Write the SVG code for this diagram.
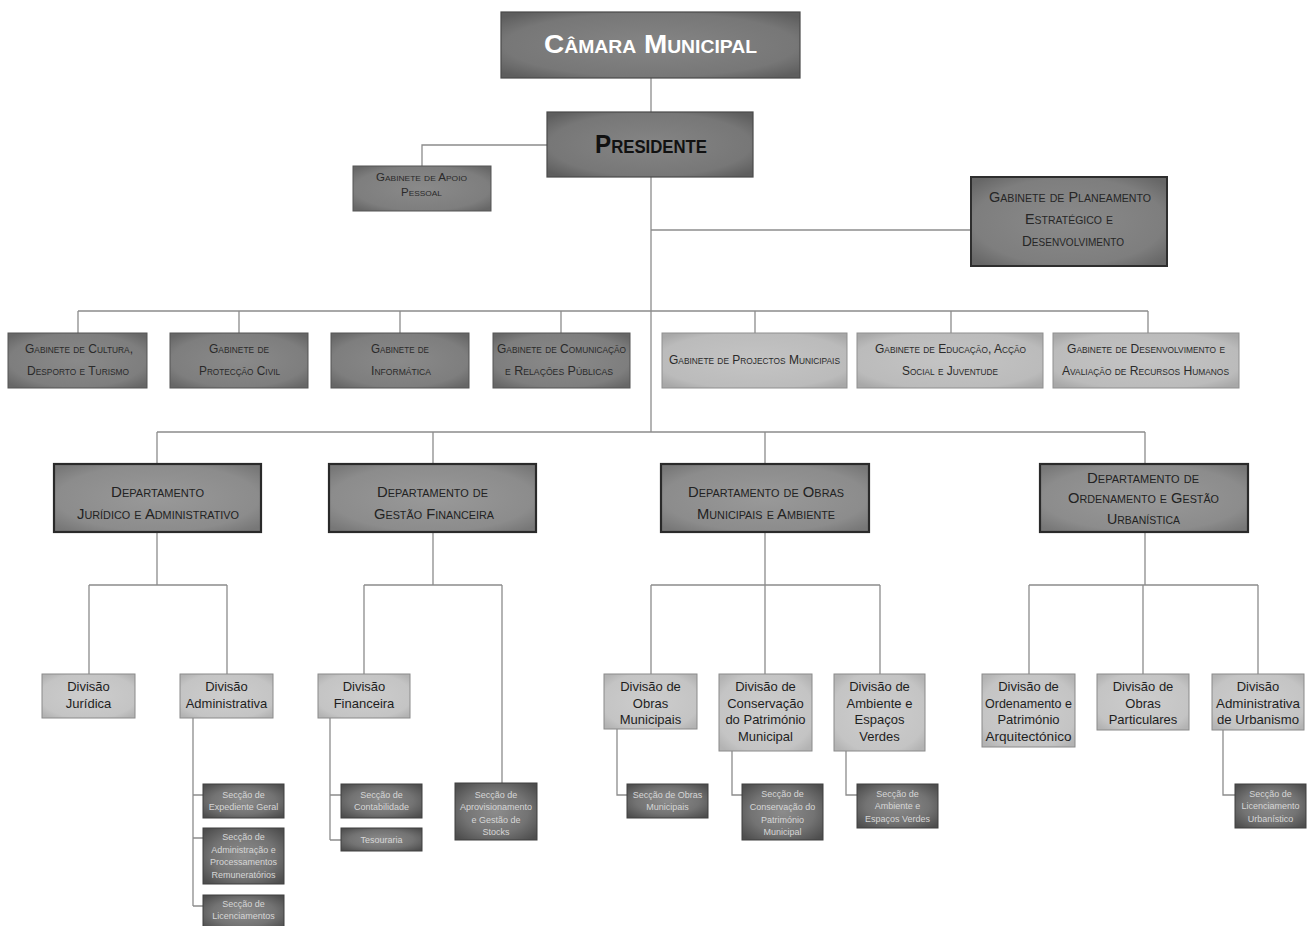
<svg xmlns="http://www.w3.org/2000/svg" width="1310" height="926" viewBox="0 0 1310 926">
<style>
.bg{fill:#ffffff}
.ln{fill:none;stroke:#8c8c8c;stroke-width:1.3}
.top{fill:url(#gTop);stroke:#4a4a4a;stroke-width:1.2}
.gd{fill:url(#gDark);stroke:#555;stroke-width:1}
.gl{fill:url(#gLight);stroke:#8f8f8f;stroke-width:1}
.dep{fill:url(#gDept);stroke:#2a2a2a;stroke-width:2.2}
.div{fill:url(#gDiv);stroke:#8a8a8a;stroke-width:1}
.sec{fill:url(#gSec);stroke:#3f3f3f;stroke-width:1}
text{font-family:"Liberation Sans",Arial,sans-serif;text-anchor:middle}
.sc{font-variant:small-caps}
.t1{font-size:26px;font-weight:bold;fill:#ffffff}
.t2{font-size:26px;font-weight:bold;fill:#111}
.tg{font-size:13px;fill:#2a2a2a}
.tgs{font-size:11px;fill:#2a2a2a}
.tp{font-size:15px;fill:#262626}
.td{font-size:15px;fill:#222}
.tv{font-size:13px;fill:#1e1e1e}
.ts{font-size:9px;fill:#d6d6d6}
</style>
<defs>
<radialGradient id="gTop" cx="50%" cy="50%" r="65%"><stop offset="0" stop-color="#858585"/><stop offset="0.75" stop-color="#777"/><stop offset="1" stop-color="#5e5e5e"/></radialGradient>
<radialGradient id="gDark" cx="50%" cy="50%" r="65%"><stop offset="0" stop-color="#8a8a8a"/><stop offset="0.75" stop-color="#7e7e7e"/><stop offset="1" stop-color="#676767"/></radialGradient>
<radialGradient id="gLight" cx="50%" cy="50%" r="65%"><stop offset="0" stop-color="#c4c4c4"/><stop offset="0.8" stop-color="#bbbbbb"/><stop offset="1" stop-color="#a8a8a8"/></radialGradient>
<radialGradient id="gDept" cx="50%" cy="50%" r="65%"><stop offset="0" stop-color="#999"/><stop offset="0.75" stop-color="#8c8c8c"/><stop offset="1" stop-color="#777"/></radialGradient>
<radialGradient id="gDiv" cx="50%" cy="50%" r="65%"><stop offset="0" stop-color="#cdcdcd"/><stop offset="0.8" stop-color="#c4c4c4"/><stop offset="1" stop-color="#b3b3b3"/></radialGradient>
<radialGradient id="gSec" cx="50%" cy="50%" r="65%"><stop offset="0" stop-color="#8c8c8c"/><stop offset="0.6" stop-color="#737373"/><stop offset="1" stop-color="#4e4e4e"/></radialGradient>
</defs>
<rect class="bg" x="0" y="0" width="1310" height="926"/>

<g id="connectors">
<path class="ln" d="M651 78V112"/>
<path class="ln" d="M547 145H422V166"/>
<path class="ln" d="M651 177V432"/>
<path class="ln" d="M651 230H971"/>
<path class="ln" d="M78 311H1148M78 311V333M239 311V333M400 311V333M561 311V333M755 311V333M951 311V333M1148 311V333"/>
<path class="ln" d="M157 432H1145M157 432V464M433 432V464M765 432V464M1145 432V464"/>
<path class="ln" d="M157 532V585M89 585H227M89 585V674M227 585V674"/>
<path class="ln" d="M433 532V585M364 585H502M364 585V674M502 585V783"/>
<path class="ln" d="M765 532V585M651 585H880M651 585V674M765 585V674M880 585V674"/>
<path class="ln" d="M1145 532V585M1029 585H1258M1029 585V674M1143 585V674M1258 585V674"/>
<path class="ln" d="M193 718V906M193 795H203M193 838H203M193 906H203"/>
<path class="ln" d="M330 718V840M330 795H341M330 840H341"/>
<path class="ln" d="M617 729V795H627"/>
<path class="ln" d="M732 751V795H742"/>
<path class="ln" d="M846 751V795H857"/>
<path class="ln" d="M1223 730V795H1235"/>
</g>

<g id="camara"><rect class="top" x="501" y="12" width="299" height="66"/>
<text class="sc t1" x="650.5" y="53" textLength="213" lengthAdjust="spacingAndGlyphs">Câmara Municipal</text></g>
<g id="presidente"><rect class="top" x="547" y="112" width="206" height="65"/>
<text class="sc t2" x="651" y="153" textLength="112" lengthAdjust="spacingAndGlyphs">Presidente</text></g>
<g id="gab-apoio"><rect class="gd" x="353" y="166" width="138" height="45"/>
<text class="sc tgs" x="421.5" y="181" textLength="91" lengthAdjust="spacingAndGlyphs">Gabinete de Apoio</text>
<text class="sc tgs" x="421.5" y="196" textLength="41" lengthAdjust="spacingAndGlyphs">Pessoal</text></g>
<g id="gab-planeamento"><rect x="971" y="177" width="196" height="89" fill="url(#gDark)" stroke="#2e2e2e" stroke-width="2"/>
<text class="sc tp" x="1070" y="202" textLength="162" lengthAdjust="spacingAndGlyphs">Gabinete de Planeamento</text>
<text class="sc tp" x="1069" y="224" textLength="88" lengthAdjust="spacingAndGlyphs">Estratégico e</text>
<text class="sc tp" x="1073" y="246" textLength="102" lengthAdjust="spacingAndGlyphs">Desenvolvimento</text></g>

<g id="gab-cultura"><rect class="gd" x="8" y="333" width="139" height="55"/>
<text class="sc tg" x="79" y="353" textLength="108" lengthAdjust="spacingAndGlyphs">Gabinete de Cultura,</text>
<text class="sc tg" x="78" y="375" textLength="102" lengthAdjust="spacingAndGlyphs">Desporto e Turismo</text></g>
<g id="gab-proteccao"><rect class="gd" x="170" y="333" width="138" height="55"/>
<text class="sc tg" x="239" y="353" textLength="60" lengthAdjust="spacingAndGlyphs">Gabinete de</text>
<text class="sc tg" x="239.5" y="375" textLength="81" lengthAdjust="spacingAndGlyphs">Protecção Civil</text></g>
<g id="gab-informatica"><rect class="gd" x="331" y="333" width="138" height="55"/>
<text class="sc tg" x="400" y="353" textLength="58" lengthAdjust="spacingAndGlyphs">Gabinete de</text>
<text class="sc tg" x="401" y="375" textLength="60" lengthAdjust="spacingAndGlyphs">Informática</text></g>
<g id="gab-comunicacao"><rect class="gd" x="493" y="333" width="137" height="55"/>
<text class="sc tg" x="561.5" y="353" textLength="129" lengthAdjust="spacingAndGlyphs">Gabinete de Comunicação</text>
<text class="sc tg" x="559" y="375" textLength="108" lengthAdjust="spacingAndGlyphs">e Relações Públicas</text></g>
<g id="gab-projectos"><rect class="gl" x="662" y="333" width="185" height="55"/>
<text class="sc tg" x="754.5" y="364" textLength="171" lengthAdjust="spacingAndGlyphs">Gabinete de Projectos Municipais</text></g>
<g id="gab-educacao"><rect class="gl" x="857" y="333" width="186" height="55"/>
<text class="sc tg" x="950.5" y="353" textLength="151" lengthAdjust="spacingAndGlyphs">Gabinete de Educação, Acção</text>
<text class="sc tg" x="950" y="375" textLength="96" lengthAdjust="spacingAndGlyphs">Social e Juventude</text></g>
<g id="gab-rh"><rect class="gl" x="1053" y="333" width="186" height="55"/>
<text class="sc tg" x="1146" y="353" textLength="158" lengthAdjust="spacingAndGlyphs">Gabinete de Desenvolvimento e</text>
<text class="sc tg" x="1145.5" y="375" textLength="167" lengthAdjust="spacingAndGlyphs">Avaliação de Recursos Humanos</text></g>

<g id="dep-juridico"><rect class="dep" x="54" y="464" width="207" height="68"/>
<text class="sc td" x="157.5" y="497" textLength="93" lengthAdjust="spacingAndGlyphs">Departamento</text>
<text class="sc td" x="158" y="519" textLength="162" lengthAdjust="spacingAndGlyphs">Jurídico e Administrativo</text></g>
<g id="dep-financeira"><rect class="dep" x="329" y="464" width="207" height="68"/>
<text class="sc td" x="432.5" y="497" textLength="111" lengthAdjust="spacingAndGlyphs">Departamento de</text>
<text class="sc td" x="434" y="519" textLength="120" lengthAdjust="spacingAndGlyphs">Gestão Financeira</text></g>
<g id="dep-obras"><rect class="dep" x="661" y="464" width="208" height="68"/>
<text class="sc td" x="766" y="497" textLength="156" lengthAdjust="spacingAndGlyphs">Departamento de Obras</text>
<text class="sc td" x="766" y="519" textLength="138" lengthAdjust="spacingAndGlyphs">Municipais e Ambiente</text></g>
<g id="dep-ordenamento"><rect class="dep" x="1040" y="464" width="208" height="68"/>
<text class="sc td" x="1143" y="483" textLength="112" lengthAdjust="spacingAndGlyphs">Departamento de</text>
<text class="sc td" x="1143.5" y="503" textLength="151" lengthAdjust="spacingAndGlyphs">Ordenamento e Gestão</text>
<text class="sc td" x="1143.5" y="524" textLength="73" lengthAdjust="spacingAndGlyphs">Urbanística</text></g>

<g id="div-juridica"><rect class="div" x="42" y="674" width="93" height="44"/>
<text class="tv" x="88.5" y="691">Divisão</text><text class="tv" x="88.5" y="708">Jurídica</text></g>
<g id="div-administrativa"><rect class="div" x="180" y="674" width="93" height="44"/>
<text class="tv" x="226.5" y="691">Divisão</text><text class="tv" x="226.5" y="708">Administrativa</text></g>
<g id="div-financeira"><rect class="div" x="318" y="674" width="92" height="44"/>
<text class="tv" x="364" y="691">Divisão</text><text class="tv" x="364" y="708">Financeira</text></g>
<g id="div-obras-municipais"><rect class="div" x="604" y="674" width="93" height="55"/>
<text class="tv" x="650.5" y="691">Divisão de</text><text class="tv" x="650.5" y="707.5">Obras</text><text class="tv" x="650.5" y="724">Municipais</text></g>
<g id="div-conservacao"><rect class="div" x="719" y="674" width="93" height="77"/>
<text class="tv" x="765.5" y="691">Divisão de</text><text class="tv" x="765.5" y="707.5">Conservação</text><text class="tv" x="765.5" y="724">do Património</text><text class="tv" x="765.5" y="740.5">Municipal</text></g>
<g id="div-ambiente"><rect class="div" x="834" y="674" width="91" height="77"/>
<text class="tv" x="879.5" y="691">Divisão de</text><text class="tv" x="879.5" y="707.5">Ambiente e</text><text class="tv" x="879.5" y="724">Espaços</text><text class="tv" x="879.5" y="740.5">Verdes</text></g>
<g id="div-ordenamento"><rect class="div" x="982" y="674" width="93" height="73"/>
<text class="tv" x="1028.5" y="691">Divisão de</text><text class="tv" x="1028.5" y="707.5" textLength="87" lengthAdjust="spacingAndGlyphs">Ordenamento e</text><text class="tv" x="1028.5" y="724">Património</text><text class="tv" x="1028.5" y="740.5" textLength="86" lengthAdjust="spacingAndGlyphs">Arquitectónico</text></g>
<g id="div-obras-particulares"><rect class="div" x="1097" y="674" width="92" height="56"/>
<text class="tv" x="1143" y="691">Divisão de</text><text class="tv" x="1143" y="707.5">Obras</text><text class="tv" x="1143" y="724">Particulares</text></g>
<g id="div-urbanismo"><rect class="div" x="1212" y="674" width="92" height="56"/>
<text class="tv" x="1258" y="691">Divisão</text><text class="tv" x="1258" y="707.5" textLength="84" lengthAdjust="spacingAndGlyphs">Administrativa</text><text class="tv" x="1258" y="724" textLength="82" lengthAdjust="spacingAndGlyphs">de Urbanismo</text></g>

<g id="sec-expediente"><rect class="sec" x="203" y="784" width="81" height="34"/>
<text class="ts" x="243.5" y="798">Secção de</text><text class="ts" x="243.5" y="810">Expediente Geral</text></g>
<g id="sec-administracao"><rect class="sec" x="203" y="828" width="81" height="56"/>
<text class="ts" x="243.5" y="840">Secção de</text><text class="ts" x="243.5" y="852.5">Administração e</text><text class="ts" x="243.5" y="865">Processamentos</text><text class="ts" x="243.5" y="877.5">Remuneratórios</text></g>
<g id="sec-licenciamentos"><rect class="sec" x="203" y="895" width="81" height="35"/>
<text class="ts" x="243.5" y="907">Secção de</text><text class="ts" x="243.5" y="919">Licenciamentos</text></g>
<g id="sec-contabilidade"><rect class="sec" x="341" y="784" width="81" height="34"/>
<text class="ts" x="381.5" y="798">Secção de</text><text class="ts" x="381.5" y="810">Contabilidade</text></g>
<g id="sec-tesouraria"><rect class="sec" x="341" y="828" width="81" height="23"/>
<text class="ts" x="381.5" y="843">Tesouraria</text></g>
<g id="sec-aprovisionamento"><rect class="sec" x="455" y="783" width="82" height="57"/>
<text class="ts" x="496" y="798">Secção de</text><text class="ts" x="496" y="810">Aprovisionamento</text><text class="ts" x="496" y="823">e Gestão de</text><text class="ts" x="496" y="835">Stocks</text></g>
<g id="sec-obras-municipais"><rect class="sec" x="627" y="784" width="81" height="34"/>
<text class="ts" x="667.5" y="798">Secção de Obras</text><text class="ts" x="667.5" y="810">Municipais</text></g>
<g id="sec-conservacao"><rect class="sec" x="742" y="784" width="81" height="56"/>
<text class="ts" x="782.5" y="797">Secção de</text><text class="ts" x="782.5" y="810">Conservação do</text><text class="ts" x="782.5" y="823">Património</text><text class="ts" x="782.5" y="835">Municipal</text></g>
<g id="sec-ambiente"><rect class="sec" x="857" y="784" width="81" height="44"/>
<text class="ts" x="897.5" y="797">Secção de</text><text class="ts" x="897.5" y="809">Ambiente e</text><text class="ts" x="897.5" y="822">Espaços Verdes</text></g>
<g id="sec-licenciamento-urbanistico"><rect class="sec" x="1235" y="784" width="71" height="44"/>
<text class="ts" x="1270.5" y="797">Secção de</text><text class="ts" x="1270.5" y="809">Licenciamento</text><text class="ts" x="1270.5" y="822">Urbanístico</text></g>
</svg>
